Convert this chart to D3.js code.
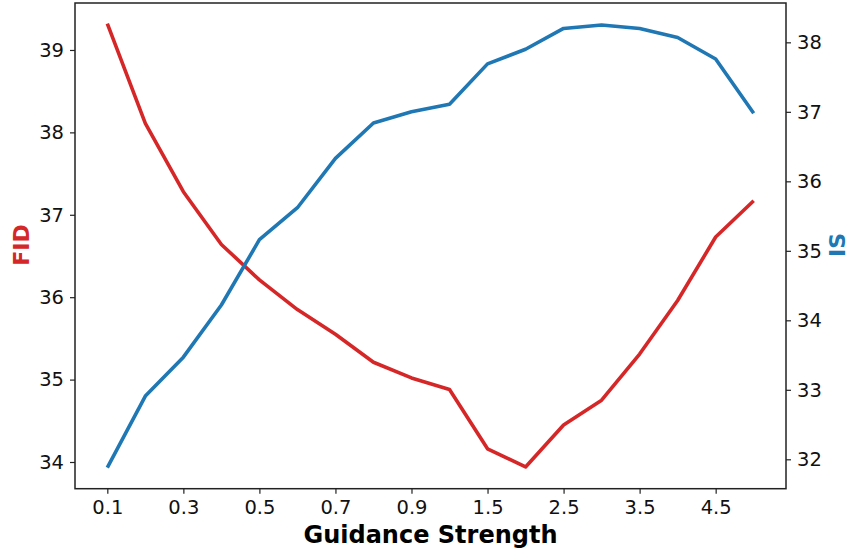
<!DOCTYPE html>
<html>
<head>
<meta charset="utf-8">
<script src="https://cdn.jsdelivr.net/npm/d3@7"></script>
<style>
  html, body { margin: 0; padding: 0; background: #fff; }
  svg { display: block; font-family: "DejaVu Sans", sans-serif; }
</style>
</head>
<body>
<svg id="chart" width="849" height="552"></svg>
<script>
// Guidance strength settings (categorical, evenly spaced)
const guidance = ["0.1","0.2","0.3","0.4","0.5","0.6","0.7","0.8","0.9","1.0","1.5","2.0","2.5","3.0","3.5","4.0","4.5","5.0"];
// FID per setting (left axis)
const fidValues = [39.32,38.11,37.28,36.64,36.21,35.85,35.55,35.21,35.02,34.88,34.16,33.94,34.45,34.75,35.31,35.96,36.73,37.17];
// IS per setting (right axis)
const isValues = [31.88,32.91,33.47,34.22,35.16,35.62,36.33,36.84,37.0,37.11,37.69,37.9,38.2,38.25,38.2,38.07,37.76,36.98];
// Labelled ticks
const xTickLabels = ["0.1","0.3","0.5","0.7","0.9","1.5","2.5","3.5","4.5"];
const fidTicks = [34,35,36,37,38,39];
const isTicks = [32,33,34,35,36,37,38];

const RED = "#d62728", BLUE = "#1f77b4";
const svg = d3.select("#chart");
const plotL = 75, plotR = 786, plotT = 3, plotB = 488.7;

const idx = d3.range(guidance.length);
const pad = 0.05 * (guidance.length - 1);
const x = d3.scaleLinear().domain([-pad, guidance.length - 1 + pad]).range([plotL, plotR]);
const yFid = d3.scaleLinear().domain([33.676, 39.57]).range([plotB, plotT]);
const yIs = d3.scaleLinear().domain([31.577, 38.566]).range([plotB, plotT]);

const tickFont = "19.5px";

// FID line
svg.append("path")
  .datum(idx)
  .attr("fill", "none").attr("stroke", RED).attr("stroke-width", 3.6)
  .attr("stroke-linejoin", "round")
  .attr("d", d3.line().x(i => x(i)).y(i => yFid(fidValues[i])));

// IS line
svg.append("path")
  .datum(idx)
  .attr("fill", "none").attr("stroke", BLUE).attr("stroke-width", 3.6)
  .attr("stroke-linejoin", "round")
  .attr("d", d3.line().x(i => x(i)).y(i => yIs(isValues[i])));

// Frame
svg.append("rect")
  .attr("x", plotL).attr("y", plotT).attr("width", plotR - plotL).attr("height", plotB - plotT)
  .attr("fill", "none").attr("stroke", "#222").attr("stroke-width", 1.5);

// Bottom axis
const xTickIdx = xTickLabels.map(l => guidance.indexOf(l));
const xAxis = svg.append("g").attr("transform", `translate(0,${plotB})`)
  .call(d3.axisBottom(x).tickValues(xTickIdx).tickFormat(i => guidance[i]).tickSize(5).tickPadding(6));
xAxis.select(".domain").remove();

// Left axis (FID)
const yAxisL = svg.append("g").attr("transform", `translate(${plotL},0)`)
  .call(d3.axisLeft(yFid).tickValues(fidTicks).tickFormat(d3.format("d")).tickSize(5).tickPadding(6));
yAxisL.select(".domain").remove();

// Right axis (IS)
const yAxisR = svg.append("g").attr("transform", `translate(${plotR},0)`)
  .call(d3.axisRight(yIs).tickValues(isTicks).tickFormat(d3.format("d")).tickSize(5).tickPadding(6));
yAxisR.select(".domain").remove();

svg.selectAll(".tick line").attr("stroke", "#222").attr("stroke-width", 1.2);
svg.selectAll(".tick text").attr("fill", "#111")
  .style("font-size", tickFont).style("font-family", "DejaVu Sans, sans-serif");

// Axis titles
svg.append("text")
  .attr("x", (plotL + plotR) / 2).attr("y", 543)
  .attr("text-anchor", "middle")
  .style("font-size", "24px").style("font-weight", "bold").attr("fill", "#000")
  .text("Guidance Strength");

svg.append("text")
  .attr("transform", `translate(29,245) rotate(-90)`)
  .attr("text-anchor", "middle")
  .style("font-size", "22px").style("font-weight", "bold").attr("fill", RED)
  .text("FID");

svg.append("text")
  .attr("transform", `translate(845,245) rotate(-90)`)
  .attr("text-anchor", "middle")
  .style("font-size", "22px").style("font-weight", "bold").attr("fill", BLUE)
  .text("IS");
</script>
</body>
</html>
